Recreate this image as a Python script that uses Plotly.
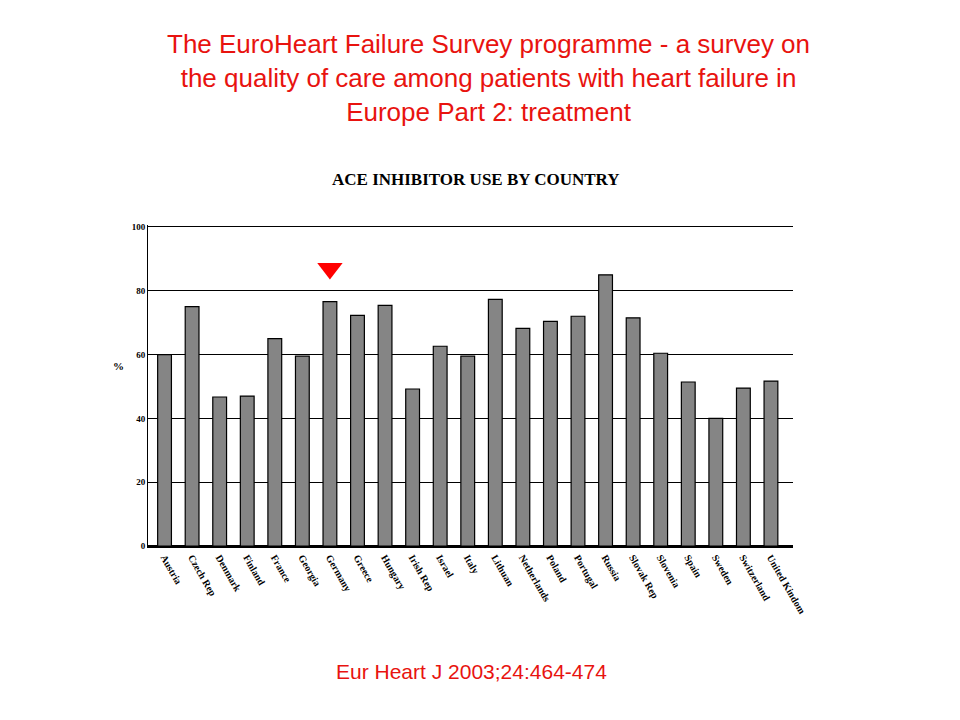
import plotly.graph_objects as go

countries = ["Austria","Czech Rep","Denmark","Finland","France","Georgia","Germany","Greece",
             "Hungary","Irish Rep","Israel","Italy","Lithuan","Netherlands","Poland","Portugal",
             "Russia","Slovak Rep","Slovenia","Spain","Sweden","Switzerland","United Kindom"]
values = [60, 75, 46.7, 47, 65, 59.5, 76.6, 72.3, 75.4, 49.2, 62.6, 59.5, 77.3, 68.2, 70.4, 72,
          85, 71.5, 60.4, 51.4, 40, 49.5, 51.7]
y_ticks = [0, 20, 40, 60, 80, 100]

fig = go.Figure(go.Bar(x=countries, y=values, width=0.5,
                       marker=dict(color="#858585", line=dict(color="black", width=1.2))))
fig.add_trace(go.Scatter(x=["Germany"], y=[87], mode="markers",
                         marker=dict(symbol="triangle-down", size=22, color="red")))
fig.update_layout(
    width=960, height=720, showlegend=False, plot_bgcolor="white", paper_bgcolor="white",
    margin=dict(l=140, r=175, t=217, b=182, autoexpand=False),
    font=dict(family="Liberation Serif", color="black"),
    xaxis=dict(tickangle=60, tickfont=dict(size=10, family="Liberation Serif", weight="bold"),
               showline=True, linecolor="black", linewidth=1.5, ticks="", range=[-0.6, 22.8]),
    yaxis=dict(range=[0, 100.6], tickvals=y_ticks, tickfont=dict(size=9, weight="bold"),
               showgrid=True, gridcolor="black", gridwidth=1.3, showline=True, linecolor="black",
               zeroline=True, zerolinecolor="black", ticks="", ticksuffix=" "),
)
pw, ph = 960 - 140 - 175, 720 - 217 - 182
def px(x, y):
    return (x - 140) / pw, (538 - y) / ph
anns = [
    ("The EuroHeart Failure Survey programme - a survey on<br>the quality of care among patients with heart failure in<br>Europe Part 2: treatment",
     480, 70, dict(family="Liberation Sans", size=26, color="#e8130f")),
    ("<b>ACE INHIBITOR USE BY COUNTRY</b>", 468, 171, dict(size=17, family="Liberation Serif")),
    ("<b>%</b>", 110, 358, dict(size=11)),
    ("Eur Heart J 2003;24:464-474", 463, 663, dict(family="Liberation Sans", size=21, color="#e8130f")),
]
for t, x, y, f in anns:
    ax, ay = px(x, y)
    fig.add_annotation(text=t, x=ax, y=ay, xref="paper", yref="paper", showarrow=False,
                       font=f, xanchor="center", yanchor="middle")
fig.write_html("out.html")
